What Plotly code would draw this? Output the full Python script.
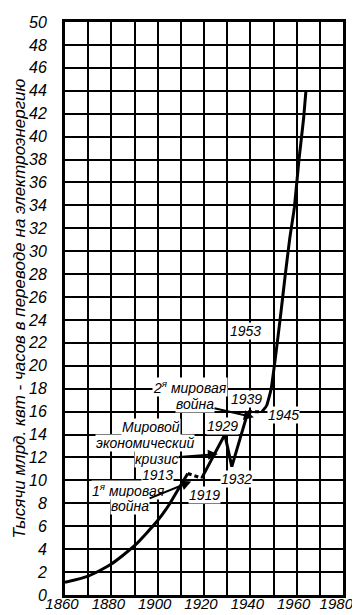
import plotly.graph_objects as go

# --- data ---
prewar_years = [1860, 1870, 1880, 1890, 1900, 1905, 1910, 1913]
prewar_vals = [1.1, 1.65, 2.7, 4.3, 6.5, 7.9, 9.6, 10.6]

ww1_years = [1913, 1919]
ww1_vals = [10.6, 10.2]

interwar_years = [1919, 1929, 1932, 1939]
interwar_vals = [10.2, 14.0, 11.2, 16.0]

ww2_years = [1939, 1945]
ww2_vals = [16.0, 16.0]

postwar_years = [1945, 1947, 1949, 1951, 1953, 1955, 1957, 1959, 1961, 1963, 1964]
postwar_vals = [16.0, 16.5, 18.0, 21.0, 24.3, 27.8, 31.1, 33.8, 38.0, 41.6, 44.0]

x_tickvals = [1860, 1880, 1900, 1920, 1940, 1960, 1980]
x_ticktext = ["1860", "1880", "1900", "1920", "1940", "1960", "1980г"]
x_minorvals = [1870, 1890, 1910, 1930, 1950, 1970]
y_tickvals = list(range(0, 51, 2))

y_title = "Тысячи млрд. квт - часов в переводе на электроэнергию"

# labels: (text, x, y)
labels = [
    ("1953", 1938.1, 23.0),
    ("2<sup>я</sup> мировая", 1913.9, 18.15),
    ("1939", 1938.5, 17.1),
    ("1945", 1954.5, 15.7),
    ("Мировой", 1897.1, 14.65),
    ("экономический", 1894.5, 13.25),
    ("1913", 1900.1, 10.5),
    ("1<sup>я</sup> мировая", 1887.6, 9.15),
    ("1919", 1920.0, 8.75),
    ("1932", 1934.2, 10.1),
    ("1929", 1927.8, 14.75),
]
# labels with arrows: (text, text_x, text_y, head_x, head_y)
arrow_labels = [
    ("война", 1916.1, 16.7, 1941.5, 15.5),
    ("кризис", 1899.7, 11.9, 1926.0, 12.3),
    ("война", 1888.1, 7.75, 1914.5, 9.9),
]

FONT = "Liberation Sans, Arial, sans-serif"

fig = go.Figure()
line_style = dict(color="black", width=3)
fig.add_trace(go.Scatter(x=prewar_years, y=prewar_vals, mode="lines",
                         line=dict(shape="spline", smoothing=0.6, **line_style)))
fig.add_trace(go.Scatter(x=ww1_years, y=ww1_vals, mode="lines",
                         line=dict(dash="4px,3px", **line_style)))
fig.add_trace(go.Scatter(x=interwar_years, y=interwar_vals, mode="lines",
                         line=line_style))
fig.add_trace(go.Scatter(x=ww2_years, y=ww2_vals, mode="lines",
                         line=dict(dash="4px,3px", **line_style)))
fig.add_trace(go.Scatter(x=postwar_years, y=postwar_vals, mode="lines",
                         line=dict(shape="spline", smoothing=0.4, **line_style)))

lab_font = dict(family=FONT, size=14, color="black", style="italic")
annos = []
for t, x, y in labels:
    annos.append(dict(x=x, y=y, text=t, showarrow=False, bgcolor="white",
                      borderpad=0, font=lab_font))
for t, tx, ty, hx, hy in arrow_labels:
    annos.append(dict(x=hx, y=hy, ax=tx, ay=ty, axref="x", ayref="y", text=t,
                      showarrow=True, arrowhead=2, arrowsize=1, arrowwidth=2,
                      arrowcolor="black", bgcolor="white", borderpad=0,
                      font=lab_font))
annos.append(dict(x=(11 - 57) / (360 - 57 - 25), y=0.5, xref="paper", yref="paper",
                  text=y_title, textangle=-90, showarrow=False,
                  xanchor="center", yanchor="middle",
                  font=dict(family=FONT, size=17, color="black", style="italic")))

fig.update_layout(
    width=360, height=615,
    margin=dict(l=57, r=25, t=14, b=28),
    paper_bgcolor="white", plot_bgcolor="white",
    showlegend=False,
    font=dict(family=FONT, size=14, color="black", style="italic"),
    annotations=annos,
    xaxis=dict(range=[1860, 1980], tickmode="array", tickvals=x_tickvals, ticktext=x_ticktext,
               showgrid=True, gridcolor="black", gridwidth=2,
               minor=dict(tickmode="array", tickvals=x_minorvals, showgrid=True,
                          gridcolor="black", gridwidth=2, ticks=""),
               showline=True, linecolor="black", linewidth=3, mirror=True,
               zeroline=False, ticks="", tickangle=0, automargin=False,
               ticklabelstandoff=-7, ticklabelshift=-3,
               tickfont=dict(family=FONT, size=15, style="italic")),
    yaxis=dict(range=[0, 50], tickvals=y_tickvals,
               showgrid=True, gridcolor="black", gridwidth=2,
               showline=True, linecolor="black", linewidth=3, mirror=True,
               zeroline=False, ticks="", ticklabelstandoff=12, automargin=False,
               tickfont=dict(family=FONT, size=16, style="italic")),
)

fig.write_html("out.html")
